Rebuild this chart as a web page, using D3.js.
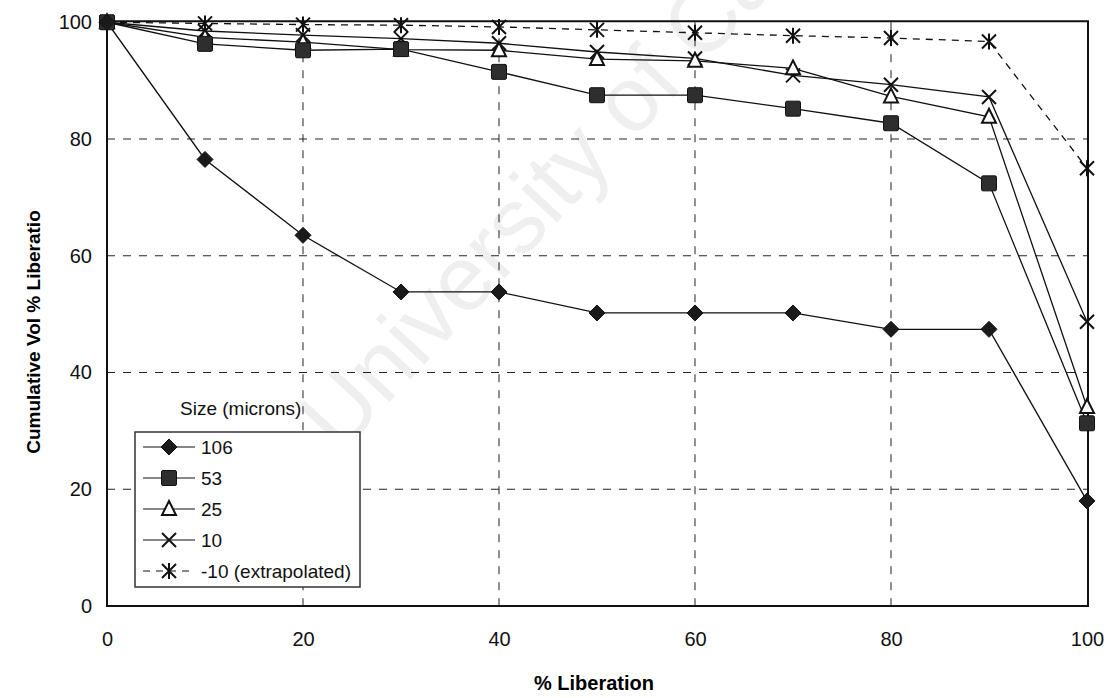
<!DOCTYPE html>
<html>
<head>
<meta charset="utf-8">
<script src="https://cdn.jsdelivr.net/npm/d3@7"></script>
<style>
  html, body { margin: 0; padding: 0; background: #fff; }
  svg { display: block; font-family: "Liberation Sans", Arial, sans-serif; }
</style>
</head>
<body>
<svg id="chart" width="1107" height="698"></svg>
<script>
// % liberation classes
const liberation = [0, 10, 20, 30, 40, 50, 60, 70, 80, 90, 100];

// Cumulative volume % per particle size class
const size106 = [100, 76.5, 63.5, 53.8, 53.8, 50.2, 50.2, 50.2, 47.4, 47.4, 18.0];
const size53  = [100, 96.3, 95.2, 95.4, 91.5, 87.5, 87.5, 85.2, 82.7, 72.4, 31.3];
const size25  = [100, 97.4, 96.6, 95.3, 95.2, 93.7, 93.4, 92.1, 87.3, 83.8, 34.1];
const size10  = [100, 98.5, 97.8, 97.2, 96.4, 94.9, 93.8, 90.9, 89.3, 87.2, 48.7];
const sizeM10 = [100, 99.8, 99.6, 99.5, 99.2, 98.7, 98.2, 97.7, 97.3, 96.7, 75.0];

const seriesNames = ["106", "53", "25", "10", "-10 (extrapolated)"];
const xTicks = [0, 20, 40, 60, 80, 100];
const yTicks = [0, 20, 40, 60, 80, 100];

const series = [
  { name: seriesNames[0], values: size106, marker: "diamond",  dash: null },
  { name: seriesNames[1], values: size53,  marker: "square",   dash: null },
  { name: seriesNames[2], values: size25,  marker: "triangle", dash: null },
  { name: seriesNames[3], values: size10,  marker: "cross",    dash: null },
  { name: seriesNames[4], values: sizeM10, marker: "star",     dash: "7,6" }
];

const svg = d3.select("#chart");
const plotLeft = 107, plotRight = 1087, plotTop = 22.25, plotBottom = 606;

const x = d3.scaleLinear().domain([0, 100]).range([plotLeft, plotRight]);
const y = d3.scaleLinear().domain([0, 100]).range([plotBottom, plotTop]);

// faint background watermark
svg.append("text")
  .attr("transform", "translate(340,455) rotate(-47)")
  .attr("font-size", 92)
  .attr("fill", "#efefef")
  .text("University of Cape Town");

// dashed gridlines
const grid = svg.append("g").attr("stroke", "#222").attr("stroke-width", 1).attr("stroke-dasharray", "8,8");
grid.selectAll("line.h").data(yTicks.filter(d => d > 0 && d < 100)).join("line")
  .attr("x1", plotLeft).attr("x2", plotRight)
  .attr("y1", d => y(d)).attr("y2", d => y(d));
grid.selectAll("line.v").data(xTicks.filter(d => d > 0 && d < 100)).join("line")
  .attr("y1", plotTop).attr("y2", plotBottom)
  .attr("x1", d => x(d)).attr("x2", d => x(d));

// plot frame
svg.append("rect")
  .attr("x", plotLeft).attr("y", plotTop - 1)
  .attr("width", plotRight - plotLeft + 1).attr("height", plotBottom - plotTop + 1)
  .attr("fill", "none").attr("stroke", "#111").attr("stroke-width", 2);

// axes
const xAxis = svg.append("g").attr("transform", `translate(0,${plotBottom})`)
  .call(d3.axisBottom(x).tickValues(xTicks).tickSize(0).tickPadding(26));
const yAxis = svg.append("g").attr("transform", `translate(${plotLeft},0)`)
  .call(d3.axisLeft(y).tickValues(yTicks).tickSize(0).tickPadding(15));
[xAxis, yAxis].forEach(a => {
  a.select(".domain").remove();
  a.selectAll("text").attr("font-size", 20).attr("fill", "#111")
    .attr("font-family", "'Liberation Sans', Arial, sans-serif");
});

// axis titles
svg.append("text")
  .attr("x", 594).attr("y", 690)
  .attr("text-anchor", "middle").attr("font-size", 20).attr("font-weight", "bold")
  .text("% Liberation");
svg.append("text")
  .attr("transform", "translate(40,332) rotate(-90)")
  .attr("text-anchor", "middle").attr("font-size", 19).attr("font-weight", "bold")
  .text("Cumulative Vol % Liberatio");

// marker drawing
function drawMarker(g, type, cx, cy) {
  const s = 8;
  if (type === "diamond") {
    g.append("path").attr("d", `M${cx},${cy - s}L${cx + s},${cy}L${cx},${cy + s}L${cx - s},${cy}Z`)
      .attr("fill", "#1a1a1a").attr("stroke", "#111");
  } else if (type === "square") {
    g.append("rect").attr("x", cx - 7.5).attr("y", cy - 7.5).attr("width", 15).attr("height", 15)
      .attr("rx", 1.5).attr("fill", "#2e2e2e").attr("stroke", "#111");
  } else if (type === "triangle") {
    g.append("path").attr("d", `M${cx},${cy - 8}L${cx + 7},${cy + 6}L${cx - 7},${cy + 6}Z`)
      .attr("fill", "#fff").attr("stroke", "#111").attr("stroke-width", 2);
  } else if (type === "cross") {
    g.append("path").attr("d", `M${cx - 7},${cy - 7}L${cx + 7},${cy + 7}M${cx + 7},${cy - 7}L${cx - 7},${cy + 7}`)
      .attr("stroke", "#111").attr("stroke-width", 2);
  } else if (type === "star") {
    g.append("path").attr("d", `M${cx - 7},${cy - 7}L${cx + 7},${cy + 7}M${cx + 7},${cy - 7}L${cx - 7},${cy + 7}M${cx},${cy - 8}L${cx},${cy + 8}`)
      .attr("stroke", "#111").attr("stroke-width", 2);
  }
}

const line = d3.line().x((d, i) => x(liberation[i])).y(d => y(d));

// draw series back to front so the fine-size curves sit on top
const plot = svg.append("g");
series.slice().reverse().forEach(s => {
  plot.append("path").datum(s.values)
    .attr("d", line).attr("fill", "none")
    .attr("stroke", "#111").attr("stroke-width", 1.3)
    .attr("stroke-dasharray", s.dash);
});
series.slice().reverse().forEach(s => {
  const g = plot.append("g");
  s.values.forEach((v, i) => drawMarker(g, s.marker, x(liberation[i]), y(v)));
});

// legend
const lg = svg.append("g");
lg.append("text").attr("x", 180).attr("y", 415).attr("font-size", 19).attr("fill", "#111")
  .text("Size (microns)");
lg.append("rect").attr("x", 135).attr("y", 432).attr("width", 225).attr("height", 155)
  .attr("fill", "#fff").attr("stroke", "#333").attr("stroke-width", 1.5);
series.forEach((s, i) => {
  const yy = 447 + i * 31;
  lg.append("line").attr("x1", 143).attr("x2", 195).attr("y1", yy).attr("y2", yy)
    .attr("stroke", "#111").attr("stroke-width", 1.2)
    .attr("stroke-dasharray", s.dash);
  drawMarker(lg, s.marker, 169, yy);
  lg.append("text").attr("x", 201).attr("y", yy + 7).attr("font-size", 19).attr("fill", "#111")
    .text(s.name);
});
</script>
</body>
</html>
